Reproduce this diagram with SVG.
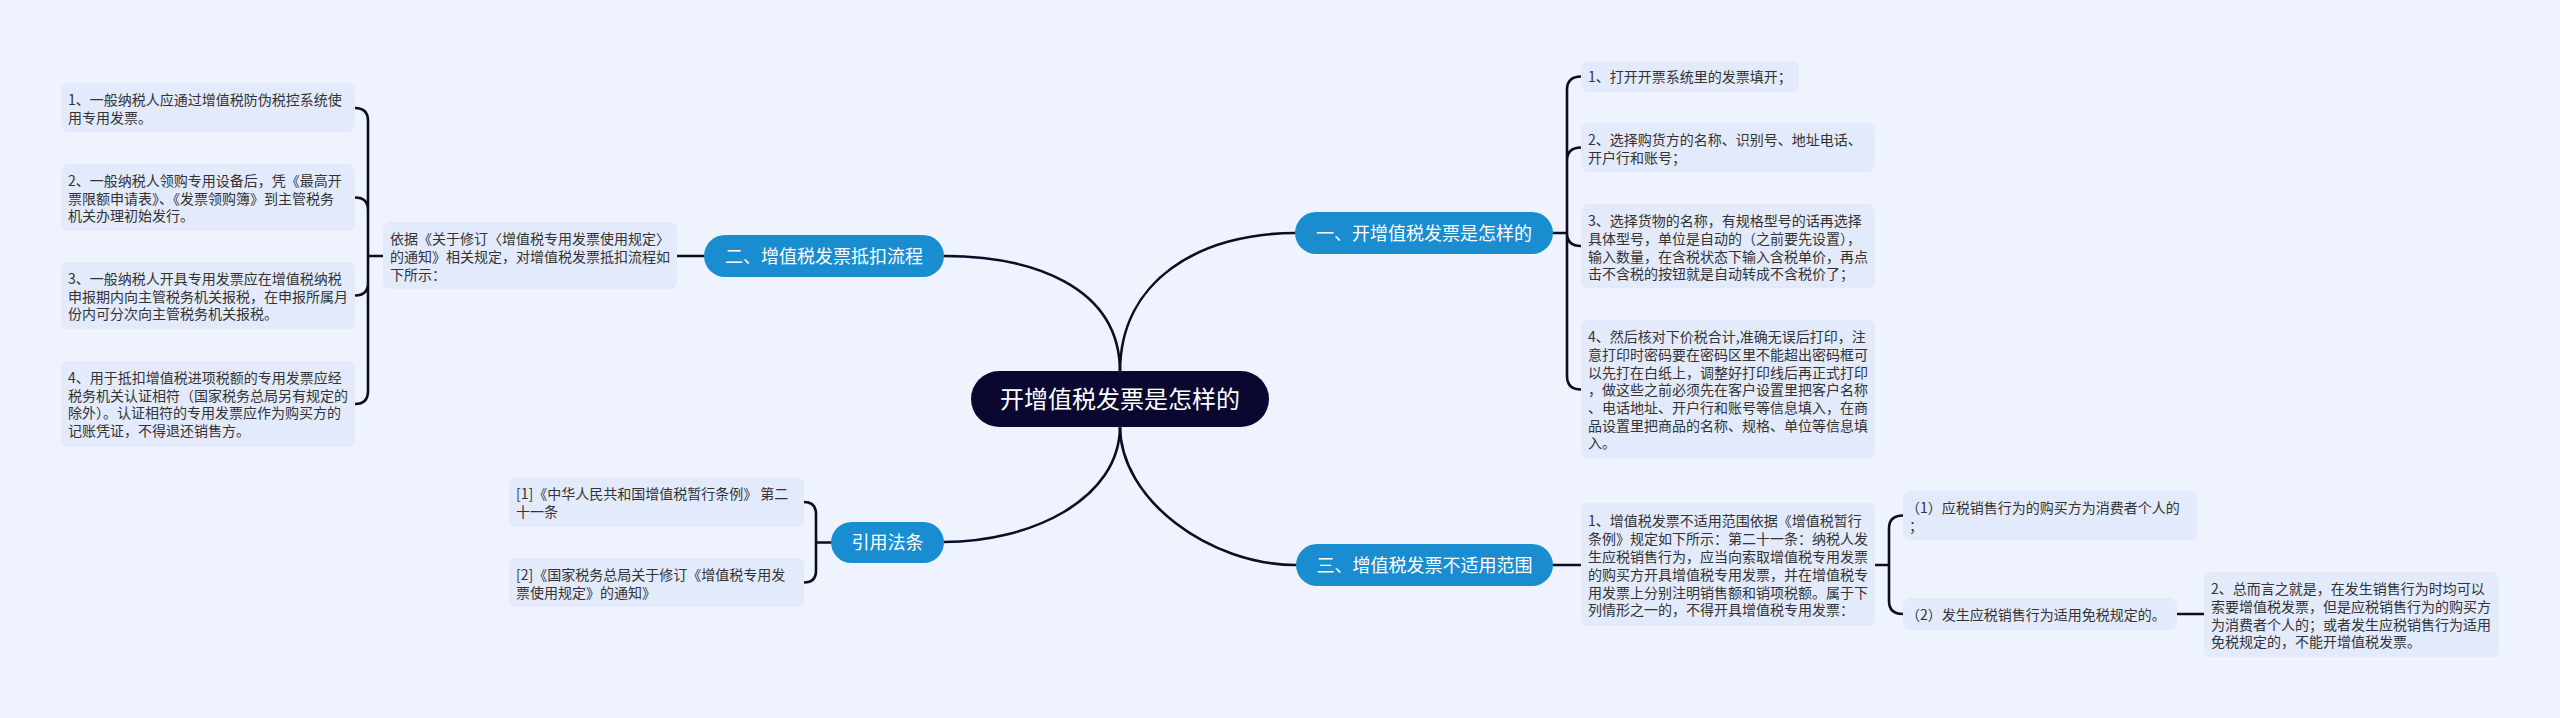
<svg xmlns="http://www.w3.org/2000/svg" width="2560" height="718" viewBox="0 0 2560 718">
<style>
.bg{fill:#eef3fe}
.box{fill:#e2eafb}
.t{font-family:"Noto Sans CJK SC","Noto Sans",sans-serif;font-size:14px;fill:#333}
.pill{fill:#1a8dd0}
.pt{font-family:"Noto Sans CJK SC","Noto Sans",sans-serif;font-size:18px;fill:#fff;text-anchor:middle}
.ct{font-family:"Noto Sans CJK SC","Noto Sans",sans-serif;font-size:24px;fill:#fff;text-anchor:middle}
.c{fill:none;stroke:#0d0c26;stroke-width:2.6;stroke-linecap:round}
</style>
<rect class="bg" x="0" y="0" width="2560" height="718"/>
<g id="connectors">
<path class="c" d="M1120,372 C1120,285 1030,256 944,256"/>
<path class="c" d="M1120,372 C1120,280 1200,233 1295,233"/>
<path class="c" d="M1120,426 C1120,500 1030,542 944,542"/>
<path class="c" d="M1120,426 C1120,500 1210,565 1296,565"/>
<path class="c" d="M704,256 H677"/>
<path class="c" d="M383,256 H368 M368,256 V121 Q368,108 355,108 M368,256 V210 Q368,197.5 355,197.5 M368,256 V283 Q368,295.5 355,295.5 M368,256 V391 Q368,404 355,404"/>
<path class="c" d="M1553,233 H1567 M1567,233 V90 Q1567,76.5 1581,76.5 M1567,233 V161 Q1567,147.5 1581,147.5 M1567,233 V233 Q1567,246 1581,246 M1567,233 V376 Q1567,389.5 1581,389.5"/>
<path class="c" d="M831,542.5 H816 M816,542.5 V514 Q816,502 804,502 M816,542.5 V570.5 Q816,582.5 804,582.5"/>
<path class="c" d="M1553,565 H1581"/>
<path class="c" d="M1875,565 H1889 M1889,565 V528.5 Q1889,515.5 1903,515.5 M1889,565 V601 Q1889,614 1903,614"/>
<path class="c" d="M2177,614 H2204"/>
</g>
<g id="center">
<rect x="971" y="371" width="298" height="56" rx="28" fill="#0a0830"/>
<text class="ct" x="1120" y="408">开增值税发票是怎样的</text>
</g>
<g id="b1">
<rect class="pill" x="1295" y="212" width="258" height="42" rx="21"/>
<text class="pt" x="1424" y="239.5">一、开增值税发票是怎样的</text>
</g>
<g id="b1c1">
<rect class="box" x="1581" y="61" width="218" height="31" rx="7"/>
<text class="t" x="1588" y="82">1、打开开票系统里的发票填开；</text>
</g>
<g id="b1c2">
<rect class="box" x="1581" y="123" width="294" height="49" rx="7"/>
<text class="t" x="1588" y="145">2、选择购货方的名称、识别号、地址电话、</text>
<text class="t" x="1588" y="163">开户行和账号；</text>
</g>
<g id="b1c3">
<rect class="box" x="1581" y="204" width="294" height="84" rx="7"/>
<text class="t" x="1588" y="226">3、选择货物的名称，有规格型号的话再选择</text>
<text class="t" x="1588" y="244">具体型号，单位是自动的（之前要先设置），</text>
<text class="t" x="1588" y="261.5">输入数量，在含税状态下输入含税单价，再点</text>
<text class="t" x="1588" y="279">击不含税的按钮就是自动转成不含税价了；</text>
</g>
<g id="b1c4">
<rect class="box" x="1581" y="320" width="294" height="139" rx="7"/>
<text class="t" x="1588" y="342">4、然后核对下价税合计,准确无误后打印，注</text>
<text class="t" x="1588" y="360">意打印时密码要在密码区里不能超出密码框可</text>
<text class="t" x="1588" y="377.5">以先打在白纸上，调整好打印线后再正式打印</text>
<text class="t" x="1588" y="395">，做这些之前必须先在客户设置里把客户名称</text>
<text class="t" x="1588" y="413">、电话地址、开户行和账号等信息填入，在商</text>
<text class="t" x="1588" y="431">品设置里把商品的名称、规格、单位等信息填</text>
<text class="t" x="1588" y="448">入。</text>
</g>
<g id="b2">
<rect class="pill" x="704" y="235" width="240" height="42" rx="21"/>
<text class="pt" x="824" y="262.5">二、增值税发票抵扣流程</text>
</g>
<g id="b2m">
<rect class="box" x="383" y="222" width="294" height="67" rx="7"/>
<text class="t" x="390" y="244">依据《关于修订〈增值税专用发票使用规定〉</text>
<text class="t" x="390" y="262">的通知》相关规定，对增值税发票抵扣流程如</text>
<text class="t" x="390" y="279.5">下所示：</text>
</g>
<g id="b2c1">
<rect class="box" x="61" y="83" width="294" height="49" rx="7"/>
<text class="t" x="68" y="105">1、一般纳税人应通过增值税防伪税控系统使</text>
<text class="t" x="68" y="122.5">用专用发票。</text>
</g>
<g id="b2c2">
<rect class="box" x="61" y="164" width="294" height="67" rx="7"/>
<text class="t" x="68" y="186">2、一般纳税人领购专用设备后，凭《最高开</text>
<text class="t" x="68" y="203.5">票限额申请表》、《发票领购簿》到主管税务</text>
<text class="t" x="68" y="221">机关办理初始发行。</text>
</g>
<g id="b2c3">
<rect class="box" x="61" y="262" width="294" height="67" rx="7"/>
<text class="t" x="68" y="284">3、一般纳税人开具专用发票应在增值税纳税</text>
<text class="t" x="68" y="301.5">申报期内向主管税务机关报税，在申报所属月</text>
<text class="t" x="68" y="319">份内可分次向主管税务机关报税。</text>
</g>
<g id="b2c4">
<rect class="box" x="61" y="361" width="294" height="86" rx="7"/>
<text class="t" x="68" y="383">4、用于抵扣增值税进项税额的专用发票应经</text>
<text class="t" x="68" y="400.5">税务机关认证相符（国家税务总局另有规定的</text>
<text class="t" x="68" y="418">除外）。认证相符的专用发票应作为购买方的</text>
<text class="t" x="68" y="435.5">记账凭证，不得退还销售方。</text>
</g>
<g id="b4">
<rect class="pill" x="831" y="522" width="113" height="41" rx="20.5"/>
<text class="pt" x="887.5" y="549">引用法条</text>
</g>
<g id="b4c1">
<rect class="box" x="509" y="477" width="295" height="50" rx="7"/>
<text class="t" x="516" y="499">[1]《中华人民共和国增值税暂行条例》 第二</text>
<text class="t" x="516" y="517">十一条</text>
</g>
<g id="b4c2">
<rect class="box" x="509" y="558" width="295" height="49" rx="7"/>
<text class="t" x="516" y="580">[2]《国家税务总局关于修订《增值税专用发</text>
<text class="t" x="516" y="598">票使用规定》的通知》</text>
</g>
<g id="b3">
<rect class="pill" x="1296" y="544" width="257" height="42" rx="21"/>
<text class="pt" x="1424.5" y="571.5">三、增值税发票不适用范围</text>
</g>
<g id="b3m">
<rect class="box" x="1581" y="503" width="294" height="123" rx="7"/>
<text class="t" x="1588" y="526">1、增值税发票不适用范围依据《增值税暂行</text>
<text class="t" x="1588" y="544">条例》规定如下所示：第二十一条：纳税人发</text>
<text class="t" x="1588" y="561.5">生应税销售行为，应当向索取增值税专用发票</text>
<text class="t" x="1588" y="579.5">的购买方开具增值税专用发票，并在增值税专</text>
<text class="t" x="1588" y="597.5">用发票上分别注明销售额和销项税额。属于下</text>
<text class="t" x="1588" y="615">列情形之一的，不得开具增值税专用发票：</text>
</g>
<g id="b3c1">
<rect class="box" x="1903" y="491" width="294" height="49" rx="7"/>
<text class="t" x="1906" y="513">（1）应税销售行为的购买方为消费者个人的</text>
<text class="t" x="1909" y="531">；</text>
</g>
<g id="b3c2">
<rect class="box" x="1903" y="598" width="274" height="32" rx="7"/>
<text class="t" x="1906" y="619.5">（2）发生应税销售行为适用免税规定的。</text>
</g>
<g id="b3c2s">
<rect class="box" x="2204" y="572" width="295" height="85" rx="7"/>
<text class="t" x="2211" y="594">2、总而言之就是，在发生销售行为时均可以</text>
<text class="t" x="2211" y="612">索要增值税发票，但是应税销售行为的购买方</text>
<text class="t" x="2211" y="629.5">为消费者个人的；或者发生应税销售行为适用</text>
<text class="t" x="2211" y="647">免税规定的，不能开增值税发票。</text>
</g>
</svg>
